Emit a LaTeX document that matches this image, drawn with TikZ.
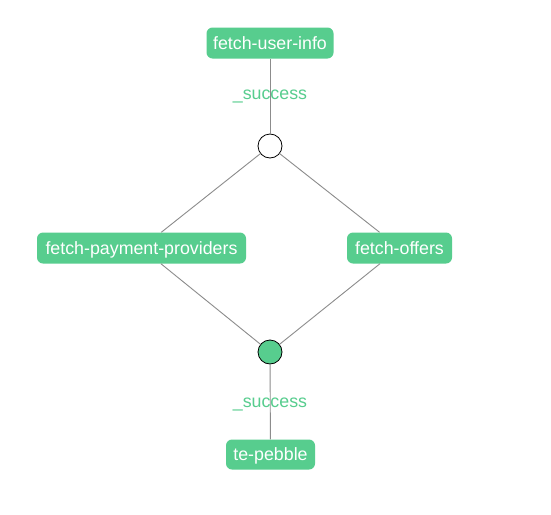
\documentclass[tikz,border=0pt]{standalone}
\usepackage{fontspec}
\setmainfont{Liberation Sans}
\definecolor{grn}{HTML}{57CD8E}
\definecolor{edge}{HTML}{8C8C8C}
\begin{document}
\begin{tikzpicture}[x=1pt,y=-1pt,
  task/.style={fill=grn,text=white,rounded corners=6pt,inner sep=0pt,minimum height=31pt,text height=13pt,text depth=1pt,font=\fontsize{17.8}{20}\selectfont},
  junction/.style={circle,draw=black,line width=0.8pt,minimum size=24pt,inner sep=0pt},
  conn/.style={draw=edge,line width=0.9pt},
  lbl/.style={text=grn,font=\fontsize{17.8}{20}\selectfont,inner sep=0pt,anchor=base}]
\useasboundingbox[fill=white] (0,0) rectangle (551,514);
\node[task,minimum width=127pt] (fui) at (270,43) {fetch-user-info};
\node[junction,fill=white] (j1) at (270,146) {};
\node[task,minimum width=209pt] (fpp) at (141.5,248) {fetch-payment-providers};
\node[task,minimum width=105pt] (fo) at (399.5,248) {fetch-offers};
\node[junction,fill=grn] (j2) at (270,352) {};
\node[task,minimum width=89pt,minimum height=30pt] (tp) at (270.5,454.5) {te-pebble};
\draw[conn] (fui) -- (j1);
\draw[conn] (j1) -- (fpp);
\draw[conn] (j1) -- (fo);
\draw[conn] (fpp) -- (j2);
\draw[conn] (fo) -- (j2);
\draw[conn] (j2) -- (tp);
\node[lbl] (l1) at (270,99.3) {\_success};
\node[lbl] (l2) at (270,407.5) {\_success};
\end{tikzpicture}
\end{document}
